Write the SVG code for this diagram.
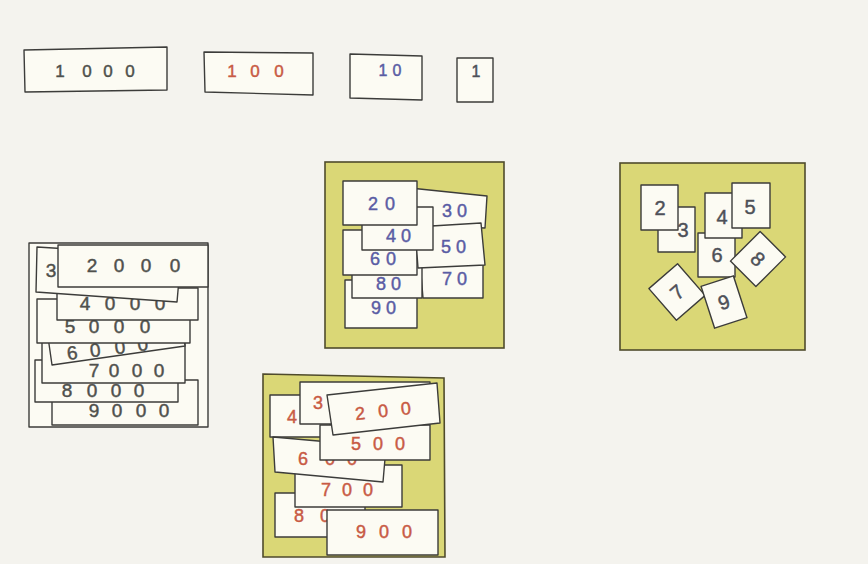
<svg xmlns="http://www.w3.org/2000/svg" width="868" height="564" viewBox="0 0 868 564">
<style>
.card{fill:#fcfbf3;stroke:#3c3c3a;stroke-width:1.4;stroke-linejoin:round}
.mat{fill:#dad776;stroke:#4f4b2c;stroke-width:1.6}
text{font-family:"Liberation Sans",Arial,sans-serif;text-anchor:middle;stroke-width:0.45}
.k{fill:#4f504c;stroke:#4f504c;font-size:19px}
.h{fill:#c85a44;stroke:#c85a44;font-size:18px}
.te{fill:#5a5ca4;stroke:#5a5ca4;font-size:18px}
.u{fill:#4e5058;stroke:#4e5058;font-size:20px}
</style>
<rect width="868" height="564" fill="#f4f3ee"/>

<!-- top row -->
<g id="card-1000">
<polygon class="card" points="24,50 167,47 167,90 25,92"/>
<text class="k" style="font-size:17px" x="60 87 108 130" y="77">1000</text>
</g>
<g id="card-100">
<polygon class="card" points="204,52 313,53 313,95 205,92"/>
<text class="h" style="font-size:17px" x="232 255 279" y="77">100</text>
</g>
<g id="card-10">
<polygon class="card" points="350,54 422,56 422,100 350,98"/>
<text class="te" style="font-size:16px" x="383 397" y="76">10</text>
</g>
<g id="card-1">
<rect class="card" x="457" y="58" width="36" height="44"/>
<text class="u" style="font-size:16px" x="476" y="77">1</text>
</g>

<!-- thousands stack -->
<g id="thousands">
<rect class="card" x="29" y="243" width="179" height="184"/>
<g id="c9000">
<rect class="card" x="52" y="380" width="146" height="45"/>
<text class="k" x="94 117 141 164" y="417">9000</text>
</g>
<g id="c8000">
<rect class="card" x="35" y="360" width="143" height="42"/>
<text class="k" x="67 92 116 139" y="397">8000</text>
</g>
<g id="c7000">
<rect class="card" x="42" y="340" width="143" height="43"/>
<text class="k" x="94 114 137 159" y="377">7000</text>
</g>
<g id="c6000">
<polygon class="card" points="46,323 179,304 185,346 52,365"/>
<text class="k" x="72 95 120 143" y="355" transform="rotate(-7 108 348)">6000</text>
</g>
<g id="c5000">
<rect class="card" x="37" y="299" width="153" height="44"/>
<text class="k" x="70 94 119 145" y="333">5000</text>
</g>
<g id="c4000">
<rect class="card" x="57" y="288" width="141" height="32"/>
<text class="k" x="85 110 135 160" y="310">4000</text>
</g>
<g id="c3000">
<polygon class="card" points="37,247 181,256 177,302 36,292"/>
<text class="k" x="51" y="277">3</text>
</g>
<g id="c2000">
<rect class="card" x="58" y="245" width="150" height="42"/>
<text class="k" x="92 119 146 175" y="272">2000</text>
</g>
</g>

<!-- tens mat -->
<g id="tens">
<rect class="mat" x="325" y="162" width="179" height="186"/>
<g id="c70"><polygon class="card" points="420,262 483,262 483,298 423,298"/><text class="te" x="447 462" y="285">70</text></g>
<g id="c90"><rect class="card" x="345" y="280" width="72" height="48"/><text class="te" x="376 391" y="314">90</text></g>
<g id="c80"><rect class="card" x="352" y="255" width="70" height="43"/><text class="te" x="381 396" y="290">80</text></g>
<g id="c60"><rect class="card" x="343" y="230" width="74" height="45"/><text class="te" x="375 391" y="265">60</text></g>
<g id="c30"><polygon class="card" points="410,188 487,196 485,228 410,225"/><text class="te" x="447 462" y="217">30</text></g>
<g id="c50"><polygon class="card" points="415,227 481,223 485,265 418,268"/><text class="te" x="446 461" y="253">50</text></g>
<g id="c40"><rect class="card" x="362" y="207" width="71" height="43"/><text class="te" x="391 406" y="242">40</text></g>
<g id="c20"><rect class="card" x="343" y="181" width="74" height="44"/><text class="te" x="373 390" y="210">20</text></g>
</g>

<!-- units mat -->
<g id="units">
<rect class="mat" x="620" y="163" width="185" height="187"/>
<g id="u3"><rect class="card" x="658" y="207" width="37" height="45"/><text class="u" x="683" y="237">3</text></g>
<g id="u2"><rect class="card" x="641" y="185" width="37" height="45"/><text class="u" x="660" y="215">2</text></g>
<g id="u6"><rect class="card" x="698" y="233" width="37" height="44"/><text class="u" x="717" y="262">6</text></g>
<g id="u4"><rect class="card" x="705" y="193" width="37" height="45"/><text class="u" x="722" y="224">4</text></g>
<g id="u5"><rect class="card" x="732" y="183" width="38" height="45"/><text class="u" x="750" y="214">5</text></g>
<g id="u8" transform="rotate(45 758 259)"><rect class="card" x="740" y="238" width="36" height="42"/><text class="u" x="758" y="266">8</text></g>
<g id="u7" transform="rotate(-41 677 292)"><rect class="card" x="658" y="271" width="38" height="42"/><text class="u" x="677" y="299">7</text></g>
<g id="u9" transform="rotate(-18 724 302)"><rect class="card" x="707" y="280" width="34" height="44"/><text class="u" x="724" y="309">9</text></g>
</g>

<!-- hundreds mat -->
<g id="hundreds">
<polygon class="mat" points="263,374 444,378 445,557 263,557"/>
<g id="c800"><rect class="card" x="275" y="493" width="90" height="44"/><text class="h" x="299 325" y="522">80</text></g>
<g id="c700"><rect class="card" x="295" y="465" width="107" height="42"/><text class="h" x="326 347 368" y="496">700</text></g>
<g id="c400"><rect class="card" x="270" y="395" width="60" height="42"/><text class="h" x="292" y="423">4</text></g>
<g id="c300"><rect class="card" x="300" y="382" width="130" height="42"/><text class="h" x="318" y="409">3</text></g>
<g id="c600"><polygon class="card" points="273,437 386,447 383,482 275,472"/><text class="h" x="303 330 352" y="465">600</text></g>
<g id="c500"><rect class="card" x="320" y="425" width="110" height="35"/><text class="h" x="356 378 400" y="450">500</text></g>
<g id="c200"><polygon class="card" points="327,395 437,383 440,423 333,435"/><text class="h" x="360 383 406" y="417" transform="rotate(-6 383 410)">200</text></g>
<g id="c900"><rect class="card" x="327" y="510" width="111" height="45"/><text class="h" x="361 384 407" y="538">900</text></g>
</g>
</svg>
